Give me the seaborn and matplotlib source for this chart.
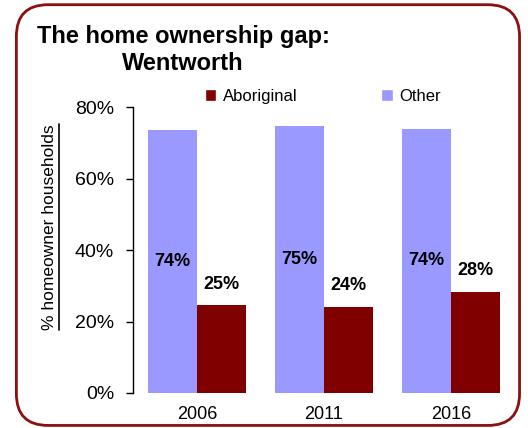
import pandas as pd
import matplotlib
matplotlib.use("Agg")
from matplotlib import pyplot as plt
from matplotlib.patches import FancyBboxPatch, Patch
from matplotlib.ticker import PercentFormatter
import seaborn as sns

years = ["2006", "2011", "2016"]
other = [73.7, 74.6, 74.0]
aboriginal = [24.5, 24.2, 28.3]
other_labels = ["74%", "75%", "74%"]
aboriginal_labels = ["25%", "24%", "28%"]

sns.set_style("white")
plt.rcParams["font.family"] = ["Liberation Sans", "DejaVu Sans"]
plt.rcParams["text.color"] = "black"
plt.rcParams["axes.labelcolor"] = "black"
plt.rcParams["xtick.color"] = "black"
plt.rcParams["ytick.color"] = "black"

df = pd.DataFrame({
    "Year": years * 2,
    "Share": other + aboriginal,
    "Group": ["Other"] * 3 + ["Aboriginal"] * 3,
})
colors = {"Other": "#9999FF", "Aboriginal": "#800000"}

fig = plt.figure(figsize=(5.28, 4.28), dpi=100)
ax = fig.add_axes([0.2528, 0.0818, 0.7216, 0.668])

sns.barplot(data=df, x="Year", y="Share", hue="Group", hue_order=["Other", "Aboriginal"],
            palette=colors, width=0.77, gap=0, saturation=1, ax=ax, legend=False,
            linewidth=0, edgecolor="none")

# labels: Other centred in bar, Aboriginal above bar
ax.bar_label(ax.containers[0], labels=other_labels, label_type="center",
             fontsize=13, fontweight="bold", color="black")
ax.bar_label(ax.containers[1], labels=aboriginal_labels, padding=9,
             fontsize=13, fontweight="bold", color="black")

ax.set_xlim(-0.5, 2.5)
ax.set_ylim(0, 80)
ax.set_yticks([0, 20, 40, 60, 80])
ax.yaxis.set_major_formatter(PercentFormatter(decimals=0))
ax.tick_params(axis="y", labelsize=14, left=True, length=5, width=1, color="black", pad=9)
ax.tick_params(axis="x", labelsize=13, bottom=False, pad=6)
ax.set_xlabel("")
ax.set_ylabel("% homeowner households", fontsize=12.5)
ax.yaxis.set_label_coords(-0.2, 0.58)
for s in ["top", "right", "bottom"]:
    ax.spines[s].set_visible(False)
ax.spines["left"].set_color("black")
ax.spines["left"].set_linewidth(1)

fig.text(0.347, 0.883, "The home ownership gap:\nWentworth", ha="center", va="center",
         fontsize=17, fontweight="bold", linespacing=1.2)

handles = [Patch(facecolor=colors["Aboriginal"]), Patch(facecolor=colors["Other"])]
fig.legend(handles, ["Aboriginal", "Other"], loc="center left", bbox_to_anchor=(0.375, 0.775),
           ncol=2, frameon=False, fontsize=12, handlelength=0.7, handleheight=0.7,
           handletextpad=0.4, columnspacing=5.0, borderaxespad=0)

# underline the y label
fig.canvas.draw()
bb = ax.yaxis.label.get_window_extent().transformed(fig.transFigure.inverted())
fig.add_artist(plt.Line2D([bb.x1 + 0.004, bb.x1 + 0.004], [bb.y0, bb.y1],
                          transform=fig.transFigure, color="black", linewidth=1.2))

border = FancyBboxPatch((0.031, 0.006), 0.953, 0.983, boxstyle="round,pad=0,rounding_size=0.06",
                        transform=fig.transFigure, facecolor="none", edgecolor="#8B1010",
                        linewidth=2, mutation_aspect=528 / 428)
fig.add_artist(border)

fig.savefig("out.png", dpi=100)
